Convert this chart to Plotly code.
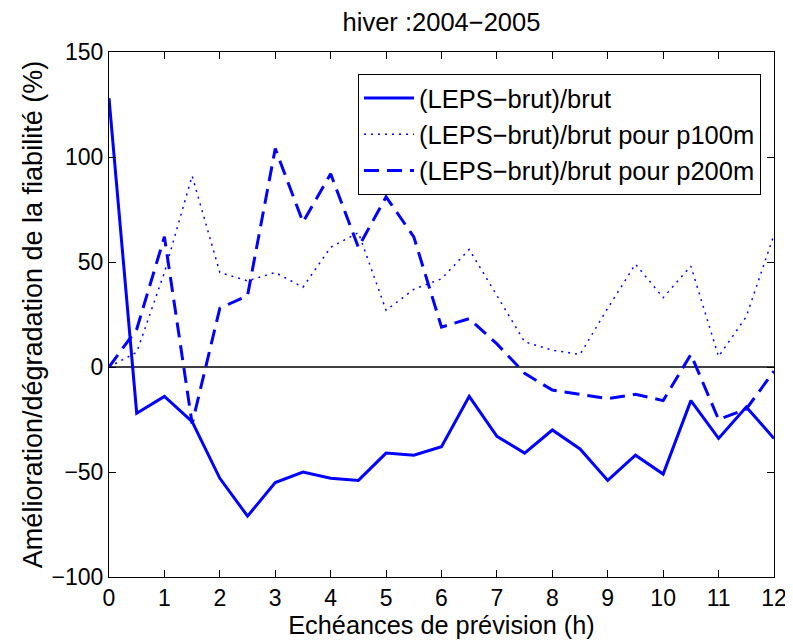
import plotly.graph_objects as go

x = [0, 0.5, 1, 1.5, 2, 2.5, 3, 3.5, 4, 4.5, 5, 5.5, 6, 6.5, 7, 7.5, 8, 8.5, 9, 9.5, 10, 10.5, 11, 11.5, 12]
brut = [128, -22, -14, -26, -53, -71, -55, -50, -53, -54, -41, -42, -38, -14, -33, -41, -30, -39, -54, -42, -51, -16, -34, -19, -34]
p100m = [0, 7, 45, 91, 45, 41, 45, 38, 57, 64, 27, 37, 42, 56, 34, 12, 8, 6, 28, 49, 33, 48, 5, 24, 63]
p200m = [0, 18, 62, -27, 28, 34, 104, 69, 92, 57, 81, 62, 19, 23, 11, -3, -11, -13, -15, -13, -16, 6, -25, -20, -2]
zero_x = [0, 12]
zero_y = [0, 0]

names = ["(LEPS\u2212brut)/brut", "(LEPS\u2212brut)/brut pour p100m", "(LEPS\u2212brut)/brut pour p200m"]
FONT = "Liberation Sans, Arial, Helvetica, sans-serif"

# page body has an 8px default margin: figure is offset by 8px
OFF = 8
W, H = 793 - OFF, 642 - OFF
L, R, T, B = 109 - OFF, 19, 52 - OFF, 65

fig = go.Figure()
fig.add_trace(go.Scatter(x=zero_x, y=zero_y, mode="lines", line=dict(color="black", width=1.5),
                         showlegend=False, hoverinfo="skip"))
fig.add_trace(go.Scatter(x=x, y=brut, mode="lines", name=names[0],
                         line=dict(color="#0000FF", width=3)))
fig.add_trace(go.Scatter(x=x, y=p100m, mode="lines", name=names[1],
                         line=dict(color="#0000FF", width=1.5, dash="2px,5px")))
fig.add_trace(go.Scatter(x=x, y=p200m, mode="lines", name=names[2],
                         line=dict(color="#0000FF", width=3, dash="15px,8px")))

axis_common = dict(showline=True, linecolor="black", linewidth=1, mirror="ticks",
                   ticks="inside", ticklen=7, tickcolor="black", tickwidth=1,
                   showgrid=False, zeroline=False, automargin=False,
                   tickfont=dict(family=FONT, size=23, color="black"))

pw = 793 - 19 - 109
ph = 577 - 52

fig.update_layout(
    width=W, height=H,
    margin=dict(l=L, r=R, t=T, b=B),
    paper_bgcolor="white", plot_bgcolor="white",
    font=dict(family=FONT, color="black"),
    title=dict(text="hiver :2004\u22122005", x=(L + pw / 2) / W, xanchor="center",
               y=1 - (22 - OFF) / H, yanchor="middle", yref="container",
               font=dict(family=FONT, size=25.5, color="black")),
    xaxis=dict(range=[0, 12], tickmode="array", tickvals=list(range(13)),
               title=dict(text="Echéances de prévision (h)", font=dict(family=FONT, size=25.3), standoff=0),
               **axis_common),
    yaxis=dict(range=[-100, 150], tickmode="array", tickvals=[-100, -50, 0, 50, 100, 150],
               title=dict(text="Amélioration/dégradation de la fiabilité (%)", font=dict(family=FONT, size=27), standoff=1),
               **axis_common),
    legend=dict(x=(358 - 109) / pw, y=(577 - 74) / ph, xanchor="left", yanchor="top",
                bordercolor="black", borderwidth=1, bgcolor="white", itemwidth=50,
                font=dict(family=FONT, size=25.5, color="black"), tracegroupgap=0),
    showlegend=True,
)

fig.write_html("out.html")
